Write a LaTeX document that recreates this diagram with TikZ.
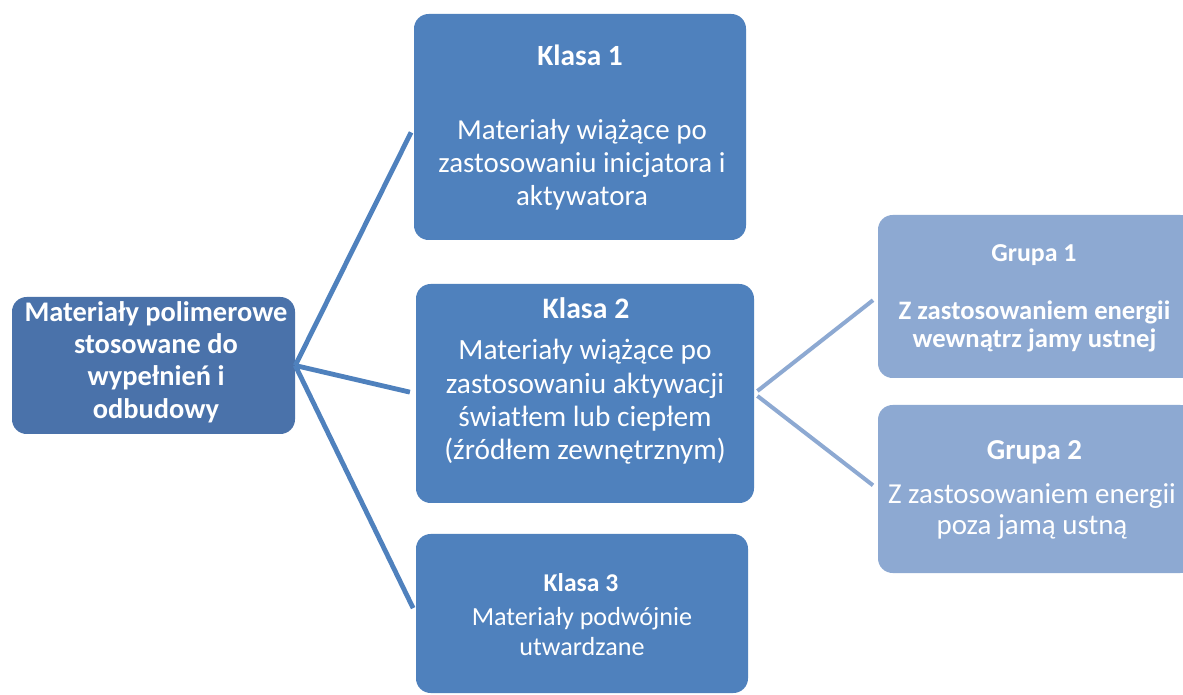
\documentclass[tikz,border=0pt]{standalone}
\usepackage{fontspec}
\setmainfont{Carlito}
\definecolor{rootblue}{RGB}{74,114,170}
\definecolor{klblue}{RGB}{79,129,189}
\definecolor{grblue}{RGB}{141,169,210}
\begin{document}
\begin{tikzpicture}[x=0.75pt,y=-0.75pt,
  box/.style={rounded corners=11pt, draw=none, inner sep=0pt},
  txt/.style={text=white, align=center, inner sep=0pt},
  conn/.style={draw=klblue, line width=3.6pt},
  conn2/.style={draw=grblue, line width=3pt}]
\useasboundingbox (0,0) rectangle (1183,695);
\clip (0,0) rectangle (1183,695);
\fill[white] (0,0) rectangle (1183,695);

% boxes
\node[box, fill=rootblue, minimum width=212.25pt, minimum height=102.75pt] (root) at (153.5,365.5) {};
\node[box, fill=klblue, minimum width=249pt, minimum height=169.5pt] (k1) at (580,127) {};
\node[box, fill=klblue, minimum width=253.5pt, minimum height=164.25pt] (k2) at (585,393.5) {};
\node[box, fill=klblue, minimum width=249pt, minimum height=119.25pt] (k3) at (582,613.5) {};
\node[box, fill=grblue, minimum width=237.75pt, minimum height=122.25pt] (g1) at (1036.5,296.5) {};
\node[box, fill=grblue, minimum width=237.75pt, minimum height=126pt] (g2) at (1036.5,489) {};

% connectors
\draw[conn, shorten >=4.5pt] (root.east) -- (k1.west);
\draw[conn, shorten >=4.5pt] (root.east) -- (k2.west);
\draw[conn, shorten >=4.5pt] (root.east) -- (k3.west);
\draw[conn2, shorten <=3pt, shorten >=4.5pt] (k2.east) -- (g1.west);
\draw[conn2, shorten <=3pt, shorten >=4.5pt] (k2.east) -- (g2.west);

% texts
\node[txt, font=\fontsize{21.3}{24.2}\selectfont\bfseries] (rt) at (156,362)
  {Materiały polimerowe\\stosowane do\\wypełnień i\\odbudowy};

\node[txt, font=\fontsize{22}{24}\selectfont\bfseries] (k1t) at (580,55) {Klasa 1};
\node[txt, font=\fontsize{21.7}{24.6}\selectfont] (k1b) at (582,165)
  {Materiały wiążące po\\zastosowaniu inicjatora i\\aktywatora};

\node[txt, font=\fontsize{22.3}{24}\selectfont\bfseries] (k2t) at (586,308) {Klasa 2};
\node[txt, font=\fontsize{22}{25}\selectfont] (k2b) at (585,402)
  {Materiały wiążące po\\zastosowaniu aktywacji\\światłem lub ciepłem\\(źródłem zewnętrznym)};

\node[txt, font=\fontsize{19.2}{22}\selectfont\bfseries] (k3t) at (581,583) {Klasa 3};
\node[txt, font=\fontsize{19.6}{22.5}\selectfont] (k3b) at (582,632)
  {Materiały podwójnie\\utwardzane};

\node[txt, font=\fontsize{19.4}{22}\selectfont\bfseries] (g1t) at (1034,255) {Grupa 1};
\node[txt, font=\fontsize{20}{21}\selectfont\bfseries] (g1b) at (1034.5,326)
  {Z zastosowaniem energii\\wewnątrz jamy ustnej};

\node[txt, font=\fontsize{21.7}{24}\selectfont\bfseries] (g2t) at (1034.5,452) {Grupa 2};
\node[txt, font=\fontsize{21.7}{23.25}\selectfont] (g2b) at (1032,512)
  {Z zastosowaniem energii\\poza jamą ustną};
\end{tikzpicture}
\end{document}
